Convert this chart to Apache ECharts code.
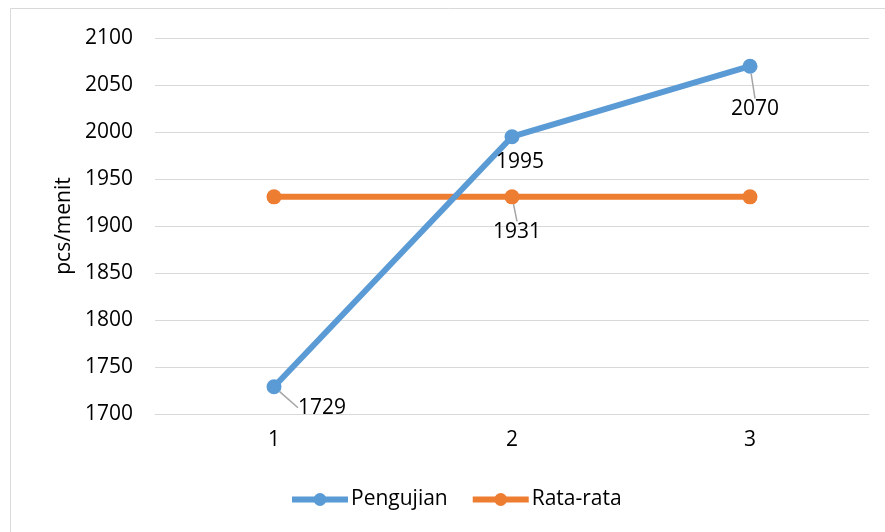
<!DOCTYPE html>
<html>
<head>
<meta charset="utf-8">
<script src="https://cdn.jsdelivr.net/npm/echarts@6/dist/echarts.min.js"></script>
<style>
  html, body { margin: 0; padding: 0; background: #fff; }
  #chart { width: 885px; height: 532px; }
</style>
</head>
<body>
<div id="chart"></div>
<script>
// Test runs and their production rate
const categories = ['1', '2', '3'];
const pengujian = [1729, 1995, 2070];
const rataRata = [1931, 1931, 1931];
const yTicks = { min: 1700, max: 2100, step: 50 };

// Label placement per point (offset from default 'bottom' spot, leader line on/off)
const pengujianLabels = [
  { dx: 48, dy: -2, line: true },
  { dx: 8, dy: 2, line: false },
  { dx: 5, dy: 20, line: true }
];
const rataLabels = [null, { dx: 5, dy: 12, line: true }, null];

const FONT = '"Open Sans", sans-serif';
const TEXT = '#000000';

const chart = echarts.init(document.getElementById('chart'), null, { renderer: 'canvas' });

function seriesData(values, labels) {
  return values.map((v, i) => {
    const l = labels[i];
    if (!l) return { value: v, label: { show: false } };
    return {
      value: v,
      label: { show: true },
      labelLine: { show: l.line }
    };
  });
}

const labelStyle = {
  position: 'bottom',
  distance: 5,
  fontFamily: FONT,
  fontSize: 21,
  color: TEXT
};

chart.setOption({
  animation: false,
  backgroundColor: '#ffffff',
  graphic: [{
    type: 'rect',
    shape: { x: 10.5, y: 8.5, width: 1000, height: 1000 },
    style: { fill: 'none', stroke: '#D9D9D9', lineWidth: 1 },
    silent: true,
    z: -1
  }],
  grid: { left: 155, right: 16, top: 38, bottom: 118 },
  legend: {
    bottom: 17,
    left: 284,
    itemWidth: 56,
    itemHeight: 16,
    itemGap: 22,
    lineStyle: { width: 6 },
    textStyle: { fontFamily: FONT, fontSize: 21, color: TEXT, padding: [0, 0, 0, -2] },
    data: ['Pengujian', 'Rata-rata']
  },
  xAxis: {
    type: 'category',
    data: categories,
    boundaryGap: true,
    axisLine: { show: true, lineStyle: { color: '#D9D9D9', width: 1 } },
    axisTick: { show: false },
    axisLabel: { fontFamily: FONT, fontSize: 21, color: TEXT, margin: 16 }
  },
  yAxis: {
    type: 'value',
    min: yTicks.min,
    max: yTicks.max,
    interval: yTicks.step,
    name: 'pcs/menit',
    nameLocation: 'middle',
    nameGap: 69,
    nameRotate: 90,
    nameTextStyle: { fontFamily: FONT, fontSize: 21, color: TEXT },
    axisLine: { show: false },
    axisTick: { show: false },
    splitLine: { lineStyle: { color: '#D9D9D9', width: 1 } },
    axisLabel: {
      fontFamily: FONT, fontSize: 21, color: TEXT, margin: 22,
      formatter: v => String(v)
    }
  },
  series: [
    {
      name: 'Pengujian',
      type: 'line',
      data: seriesData(pengujian, pengujianLabels),
      symbol: 'circle',
      symbolSize: 15,
      lineStyle: { color: '#5B9BD5', width: 6 },
      itemStyle: { color: '#5B9BD5' },
      label: labelStyle,
      labelLine: { show: true, lineStyle: { color: '#A5A5A5', width: 1.5 } },
      labelLayout: function (p) {
        const l = pengujianLabels[p.dataIndex];
        return l ? { dx: l.dx, dy: l.dy } : {};
      },
      z: 3
    },
    {
      name: 'Rata-rata',
      type: 'line',
      data: seriesData(rataRata, rataLabels),
      symbol: 'circle',
      symbolSize: 15,
      lineStyle: { color: '#ED7D31', width: 6 },
      itemStyle: { color: '#ED7D31' },
      label: labelStyle,
      labelLine: { show: true, lineStyle: { color: '#A5A5A5', width: 1.5 } },
      labelLayout: function (p) {
        const l = rataLabels[p.dataIndex];
        return l ? { dx: l.dx, dy: l.dy } : {};
      },
      z: 2
    }
  ]
});
</script>
</body>
</html>
